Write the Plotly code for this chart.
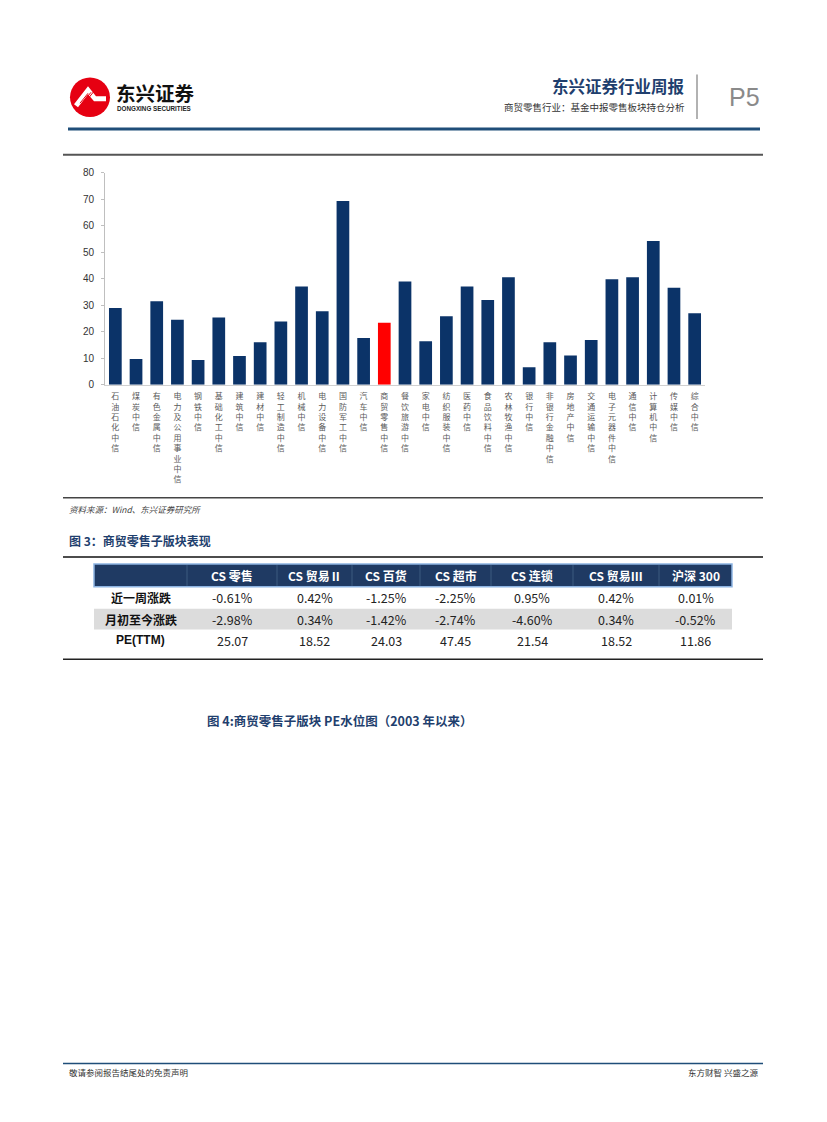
import plotly.graph_objects as go

W, H = 827, 1122
OFF = 8  # page body margin in the browser

# ---------------- data ----------------
categories = ["石油石化中信", "煤炭中信", "有色金属中信", "电力及公用事业中信", "钢铁中信",
              "基础化工中信", "建筑中信", "建材中信", "轻工制造中信", "机械中信",
              "电力设备中信", "国防军工中信", "汽车中信", "商贸零售中信", "餐饮旅游中信",
              "家电中信", "纺织服装中信", "医药中信", "食品饮料中信", "农林牧渔中信",
              "银行中信", "非银行金融中信", "房地产中信", "交通运输中信", "电子元器件中信",
              "通信中信", "计算机中信", "传媒中信", "综合中信"]
values = [28.9, 9.7, 31.5, 24.5, 9.3, 25.3, 10.8, 16.0, 23.8, 37.0,
          27.7, 69.3, 17.6, 23.4, 38.9, 16.4, 25.8, 37.0, 31.9, 40.5,
          6.6, 16.0, 11.0, 16.8, 39.8, 40.5, 54.2, 36.6, 26.9]
highlight = "商贸零售中信"
y_ticks = [0, 10, 20, 30, 40, 50, 60, 70, 80]

table_header = ["CS 零售", "CS 贸易Ⅱ", "CS 百货", "CS 超市", "CS 连锁", "CS 贸易Ⅲ", "沪深 300"]
row_labels = ["近一周涨跌", "月初至今涨跌", "PE(TTM)"]
week_change = ["-0.61%", "0.42%", "-1.25%", "-2.25%", "0.95%", "0.42%", "0.01%"]
month_change = ["-2.98%", "0.34%", "-1.42%", "-2.74%", "-4.60%", "0.34%", "-0.52%"]
pe_ttm = ["25.07", "18.52", "24.03", "47.45", "21.54", "18.52", "11.86"]

# ---------------- helpers ----------------
def X(px):
    return (px - OFF) / W

def Y(py):
    return 1 - (py - OFF) / H

NAVY = "#0B3368"
CJK = "Noto Sans CJK SC"

colors = ["#FF0000" if c == highlight else NAVY for c in categories]
vertical_labels = ["<br>".join(list(c)) for c in categories]

fig = go.Figure()
fig.add_trace(go.Bar(x=categories, y=values, marker=dict(color=colors, line=dict(width=0)),
                     showlegend=False, hoverinfo="x+y"))

annotations = []
shapes = []

# ---------------- page decorations ----------------
def hline(y, x0, x1, color, width):
    shapes.append(dict(type="line", xref="paper", yref="paper", x0=X(x0), x1=X(x1),
                       y0=Y(y), y1=Y(y), line=dict(color=color, width=width)))

def rect(x0, y0, x1, y1, fill, lc=None, lw=0):
    shapes.append(dict(type="rect", xref="paper", yref="paper", x0=X(x0), x1=X(x1),
                       y0=Y(y1), y1=Y(y0), fillcolor=fill,
                       line=dict(color=lc or fill, width=lw), layer="below"))

def text(x, y, s, size, color="#000", xanchor="left", family=CJK, bold=False, italic=False):
    if bold:
        s = "<b>" + s + "</b>"
    if italic:
        s = "<i>" + s + "</i>"
    annotations.append(dict(x=X(x), y=Y(y), xref="paper", yref="paper", text=s,
                            showarrow=False, xanchor=xanchor, yanchor="middle",
                            font=dict(family=family, size=size, color=color)))

# header logo
shapes.append(dict(type="circle", xref="paper", yref="paper", x0=X(70), x1=X(110),
                   y0=Y(113), y1=Y(73), fillcolor="#E60012", line=dict(color="#E60012", width=0)))
shapes.append(dict(type="path", xref="paper", yref="paper",
                   path=f"M {X(74)} {Y(100)} L {X(88)} {Y(82)} L {X(96)} {Y(92)} L {X(106)} {Y(92)} "
                        f"L {X(106)} {Y(97)} L {X(94)} {Y(97)} L {X(88)} {Y(90)} L {X(78)} {Y(103)} Z",
                   fillcolor="white", line=dict(width=0)))
for k in range(3):
    shapes.append(dict(type="line", xref="paper", yref="paper", x0=X(80 + k * 3), x1=X(88 + k * 3),
                       y0=Y(99 - k * 1), y1=Y(89 - k * 1), line=dict(color="#E60012", width=1)))
text(114, 88, "东兴证券", 19.5, "#111", bold=True)
text(115, 104.5, "DONGXING SECURITIES", 6.3, "#222", family="Liberation Sans", bold=True)

text(687, 82, "东兴证券行业周报", 16.5, "#1F3F6E", xanchor="right", bold=True)
text(687, 103, "商贸零售行业：基金中报零售板块持仓分析", 9.5, "#333", xanchor="right")
shapes.append(dict(type="line", xref="paper", yref="paper", x0=X(697), x1=X(697),
                   y0=Y(70), y1=Y(115), line=dict(color="#999", width=1.5)))
text(727, 93, "P5", 25, "#8a8a8a", family="Liberation Sans")
hline(125, 68, 760, "#1F4E79", 3)

# chart frame
hline(151, 63, 763, "#555", 2)
hline(497, 63, 763, "#444", 1.5)
text(67, 508, "资料来源：Wind、东兴证券研究所", 8.5, "#444", italic=True)
text(67, 540, "图 3：商贸零售子版块表现", 12, "#1F3F6E", bold=True)
hline(557, 63, 763, "#111", 1.5)

# ---------------- table ----------------
col_edges = [94, 187, 277, 352, 420, 491, 573, 659, 732]
row_edges = [564, 587, 609, 630, 652]
rect(94, 564, 732, 587, "#1F3A63", "#8DB4E2", 1.5)
rect(94, 609, 732, 630, "#DCDCDC")
for xe in col_edges[1:-1]:
    shapes.append(dict(type="line", xref="paper", yref="paper", x0=X(xe), x1=X(xe),
                       y0=Y(565), y1=Y(586), line=dict(color="#3d5a80", width=1)))
centers = [(col_edges[i] + col_edges[i + 1]) / 2 for i in range(len(col_edges) - 1)]
rows_y = [(row_edges[i] + row_edges[i + 1]) / 2 for i in range(len(row_edges) - 1)]
for j, h in enumerate(table_header):
    text(centers[j + 1], rows_y[0], h, 12, "white", xanchor="center", bold=True)
for r, (lab, vals) in enumerate(zip(row_labels, [week_change, month_change, pe_ttm])):
    fam = "Liberation Sans" if lab.startswith("PE") else CJK
    text(centers[0], rows_y[r + 1], lab, 12, "#111", xanchor="center", family=fam, bold=True)
    for j, v in enumerate(vals):
        text(centers[j + 1], rows_y[r + 1], v, 12.5, "#222", xanchor="center", family=CJK)
hline(660, 63, 763, "#222", 1.5)

text(205, 722, "图 4:商贸零售子版块 PE水位图（2003 年以来）", 12.5, "#1F3F6E", bold=True)

# footer
hline(1068, 63, 763, "#1F4E79", 1.5)
text(67, 1077, "敬请参阅报告结尾处的免责声明", 8.5, "#333")
text(760, 1077, "东方财智 兴盛之源", 8.5, "#333", xanchor="right")

fig.update_layout(
    width=W, height=H, margin=dict(l=0, r=0, t=0, b=0),
    paper_bgcolor="white", plot_bgcolor="white",
    bargap=0.386,
    xaxis=dict(domain=[X(105), X(705)], tickmode="array", tickvals=categories,
               ticktext=vertical_labels, tickangle=0, ticks="", ticklabelstandoff=4,
               tickfont=dict(family=CJK, size=8, color="#5a5a5a"),
               showline=True, linecolor="#D0D0D0", linewidth=1, showgrid=False,
               anchor="y"),
    yaxis=dict(domain=[Y(383), Y(169)], range=[0, 80], tickvals=y_ticks,
               ticks="outside", ticklen=3, tickcolor="#BFBFBF",
               showline=True, linecolor="#BFBFBF", linewidth=1, showgrid=False,
               zeroline=False, ticklabelstandoff=5,
               tickfont=dict(family="Liberation Sans", size=10, color="#333")),
    annotations=annotations, shapes=shapes,
    font=dict(family=CJK),
)

fig.write_html("out.html")
